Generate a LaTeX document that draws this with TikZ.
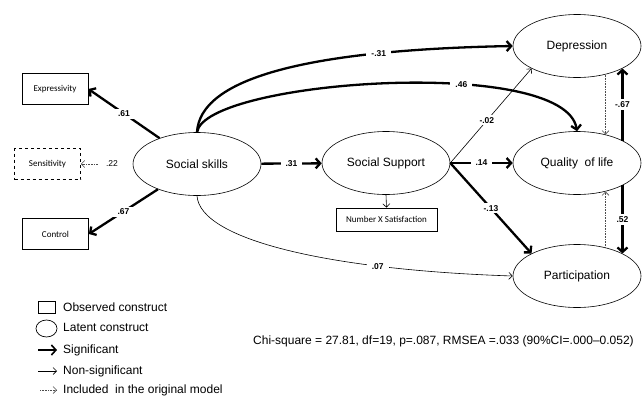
\documentclass[tikz,border=0pt]{standalone}
\usepackage{fontspec}
\setmainfont{Liberation Sans}
\newfontfamily\boxfont{Carlito}
\usetikzlibrary{shapes.geometric}
\usetikzlibrary{arrows.meta}
\tikzstyle{latent}=[ellipse,draw,line width=0.6pt,minimum width=128pt,minimum height=63pt,inner sep=0pt,font=\fontsize{12}{14}\selectfont]
\tikzstyle{observed}=[rectangle,draw,line width=0.7pt,minimum width=66pt,minimum height=31pt,inner sep=1pt,font=\boxfont\fontsize{9}{10}\selectfont]
\tikzstyle{edge} = [draw,line width=2.3pt,-{Straight Barb[length=4.5pt,width=10pt]}]
\tikzstyle{thinedge} = [draw,line width=0.6pt,-{Straight Barb[length=3.5pt,width=7pt]}]
\tikzstyle{dottededge} = [draw,line width=0.6pt,densely dotted,black!70,-{Straight Barb[length=3.5pt,width=7pt]}]
\tikzstyle{weight} = [font=\bfseries\fontsize{8.5}{9}\selectfont,fill=white,inner xsep=5pt,inner ysep=2pt]
\tikzstyle{legendtext} = [anchor=west,inner sep=0pt,font=\fontsize{12}{14}\selectfont]

\begin{document}
\begin{tikzpicture}[x=1pt,y=-1pt]
    \useasboundingbox (0,0) rectangle (642,399);

    % latent constructs
    \foreach \pos/\name/\label in {{(197,164)/sskills/Social skills}, {(386,163)/ssup/Social Support}, {(577,46)/dep/Depression}, {(577,163)/qol/Quality\ \ of life}, {(577,276)/part/Participation}}
        \node[latent] (\name) at \pos {\label};

    % observed constructs
    \foreach \pos/\name/\label in {{(55,89)/expr/Expressivity}, {(55.5,234)/ctrl/Control}}
        \node[observed] (\name) at \pos {\label};
    \node[observed,dashed] (sens) at (47.5,164) {Sensitivity};
    \node[observed,minimum width=101pt,minimum height=23pt] (numsat) at (386.5,219.5) {Number X Satisfaction};

    % significant paths
    \foreach \source/\dest/\weight in {sskills/expr.east/.61, sskills/ctrl.east/.67, sskills/ssup/.31, ssup.east/qol.west/.14, ssup.east/part.north west/-.13, qol.north east/dep.south east/-.67, qol.south east/part.north east/.52}
        \path[edge] (\source) -- node[weight] {\weight} (\dest);
    \path[edge] (sskills.north) .. controls (200,80) and (300,50) .. node[weight,pos=0.76] {-.31} (dep.west);
    \path[edge] (sskills.north) .. controls (205,80) and (565,55) .. node[weight,pos=0.64] {.46} (qol.north);

    % non-significant paths
    \path[thinedge] (ssup.east) -- node[weight,pos=0.45] {-.02} (dep.south west);
    \path[thinedge] (ssup.south) -- (numsat.north);
    \path[thinedge] (sskills.south) .. controls (200,240) and (330,270) .. node[weight,pos=0.73] {.07} (part.west);

    % paths of the original model
    \node[font=\fontsize{8.5}{9}\selectfont,inner xsep=8pt,inner ysep=1pt] (w22) at (112,164) {.22};
    \path[dottededge] (w22) -- (sens);
    \path[dottededge] (dep.315) -- (qol.45);
    \path[dottededge] (part.45) -- (qol.315);

    % legend
    \node[draw,line width=0.7pt,minimum width=17pt,minimum height=12pt,inner sep=0pt] (lobs) at (46.5,307) {};
    \node[draw,ellipse,line width=0.7pt,minimum width=21pt,minimum height=17pt,inner sep=0pt] (llat) at (46.5,328.5) {};
    \coordinate (lsigA) at (38,350);  \coordinate (lsigB) at (57,350);
    \coordinate (lnsA) at (38,371);   \coordinate (lnsB) at (57,371);
    \coordinate (lorgA) at (40,390);  \coordinate (lorgB) at (57,390);
    \path[edge,line width=1.6pt] (lsigA) -- (lsigB);
    \path[thinedge] (lnsA) -- (lnsB);
    \path[dottededge] (lorgA) -- (lorgB);
    \foreach \y/\name/\label in {307/tobs/Observed construct, 327/tlat/Latent construct, 350/tsig/Significant, 371/tns/Non-significant, 390/torg/Included\ \ in the original model}
        \node[legendtext] (\name) at (63,\y) {\label};

    \node[anchor=west,inner sep=0pt,font=\fontsize{12}{14}\selectfont] (fit) at (253,341) {Chi-square = 27.81, df=19, p=.087, RMSEA =.033 (90\%CI=.000--0.052)};
\end{tikzpicture}
\end{document}
